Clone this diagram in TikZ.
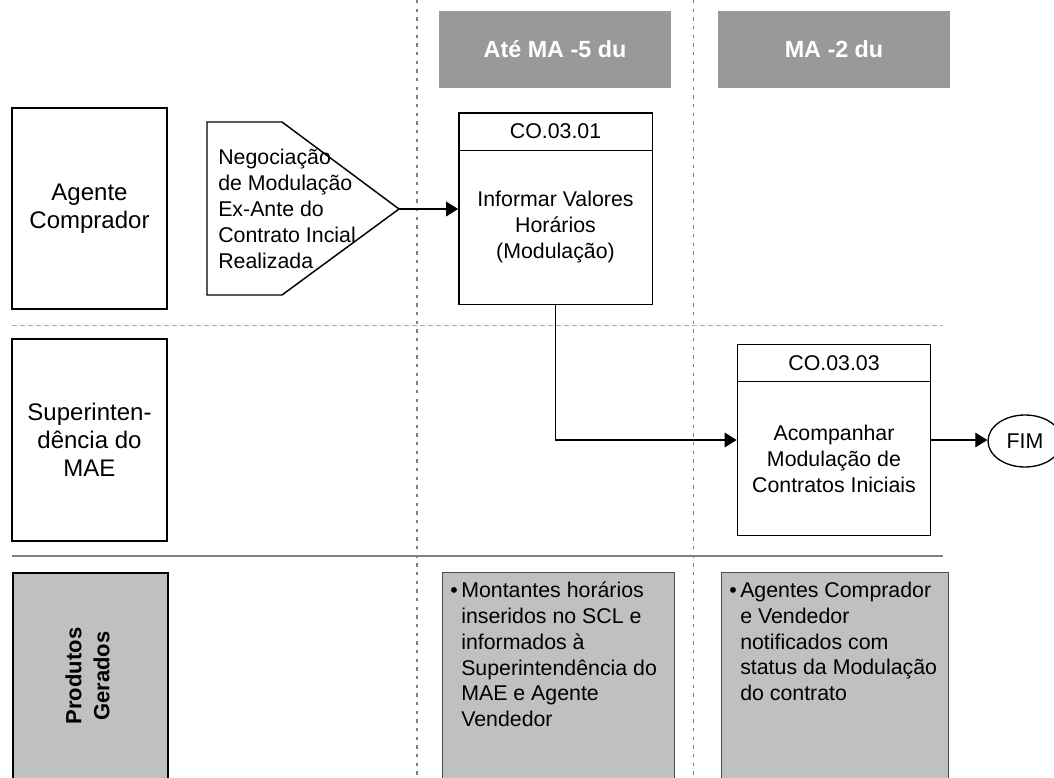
\documentclass[tikz,border=0pt]{standalone}
\usepackage{fontspec}
\setmainfont{Liberation Sans}
\usetikzlibrary{arrows.meta, positioning, calc, shapes.geometric}
\definecolor{headgray}{RGB}{153,153,153}
\definecolor{cellgray}{RGB}{192,192,192}
\definecolor{linegray}{RGB}{128,128,128}
\definecolor{dashgray}{RGB}{170,170,170}

\begin{document}
\begin{tikzpicture}[x=0.75pt, y=-0.75pt,
    lane/.style={rectangle, draw=black, line width=1.5pt, minimum width=116.25pt, minimum height=151pt,
                 align=center, font=\fontsize{18}{21}\selectfont},
    header/.style={rectangle, fill=headgray, minimum width=174pt, minimum height=57.75pt,
                   text=white, font=\fontsize{17.5}{21}\selectfont\bfseries},
    procbox/.style={rectangle, draw=black, line width=1pt, minimum width=145pt, minimum height=143.5pt},
    proctext/.style={align=center, font=\fontsize{16}{19.5}\selectfont},
    outcell/.style={rectangle, draw=black!70, fill=cellgray, line width=0.8pt, minimum width=174pt,
                    minimum height=163.5pt, anchor=north west},
    outtext/.style={anchor=north west, align=left, inner sep=0pt, font=\fontsize{16}{19.3}\selectfont},
    flow/.style={-{Triangle[length=9pt,width=11pt]}, line width=0.8pt}
]
    \clip (0,0) rectangle (1054,778);

    % column and lane separators
    \draw[linegray, line width=0.8pt, dash pattern=on 2.5pt off 4pt] (417,0) -- (417,778);
    \draw[linegray, line width=0.8pt, dash pattern=on 2.5pt off 4pt] (693.5,0) -- (693.5,778);
    \draw[dashgray, line width=1pt, dash pattern=on 3.5pt off 2.5pt] (12,325.5) -- (943,325.5);
    \draw[linegray, line width=0.8pt] (12,556) -- (943,556);

    \node[header] (col1) at (555,49.5) {Até MA -5 du};
    \node[header] (col2) at (834,49.5) {MA -2 du};

    \node[lane] (buyer) at (89.5,208.5) {Agente\\Comprador};
    \node[lane] (mae) at (89.5,440) {Superinten-\\dência do\\MAE};

    % off-page connector
    \draw[line width=1.1pt, fill=white] (207,122) -- (282,122) -- (399,209) -- (282,295) -- (207,295) -- cycle;
    \coordinate (negtip) at (399,209);
    \node[anchor=west, align=left, inner sep=0pt, font=\fontsize{16}{19.5}\selectfont] (neg) at (218,209)
        {Negociação\\de Modulação\\Ex-Ante do\\Contrato Incial\\Realizada};

    \node[procbox] (co1) at (555.5,208.5) {};
    \draw[line width=1pt] ($(co1.north west)+(0,38)$) -- ($(co1.north east)+(0,38)$);
    \node[proctext] (co1id) at ($(co1.north)+(0,19)$) {CO.03.01};
    \node[proctext] (co1txt) at ($(co1.north)+(0,114.5)$) {Informar Valores\\Horários\\(Modulação)};

    \node[procbox] (co3) at (834,440) {};
    \draw[line width=1pt] ($(co3.north west)+(0,38)$) -- ($(co3.north east)+(0,38)$);
    \node[proctext] (co3id) at ($(co3.north)+(0,19)$) {CO.03.03};
    \node[proctext] (co3txt) at ($(co3.north)+(0,115)$) {Acompanhar\\Modulação de\\Contratos Iniciais};

    \node[ellipse, draw=black, line width=1pt, minimum width=55.5pt, minimum height=39pt, inner sep=0pt,
          font=\fontsize{16}{19}\selectfont] (fim) at (1025,441) {FIM};

    \draw[flow] (negtip) -- (negtip -| co1.west);
    \draw[flow] (co1.south) |- (co3.west);
    \draw[flow] (co3.east) -- (co3.east -| fim.west);

    % generated products
    \node[rectangle, draw=black, fill=cellgray, line width=1.5pt, minimum width=116.25pt, minimum height=163.5pt,
          anchor=north west] (prod) at (12,572) {};
    \node[rotate=90, align=center, font=\fontsize{16.5}{21}\selectfont\bfseries] (prodtxt) at (87.5,676)
        {Produtos\\Gerados};

    \node[outcell] (out1) at (442,572) {};
    \node[outtext] (out1txt) at (461,582)
        {\llap{\textbullet\hspace{2.5pt}}Montantes horários\\inseridos no SCL e\\informados à\\Superintendência do\\MAE e Agente\\Vendedor};
    \node[outcell, minimum width=170.25pt] (out2) at (721,572) {};
    \node[outtext] (out2txt) at (740,582)
        {\llap{\textbullet\hspace{2.5pt}}Agentes Comprador\\e Vendedor\\notificados com\\status da Modulação\\do contrato};
\end{tikzpicture}
\end{document}
